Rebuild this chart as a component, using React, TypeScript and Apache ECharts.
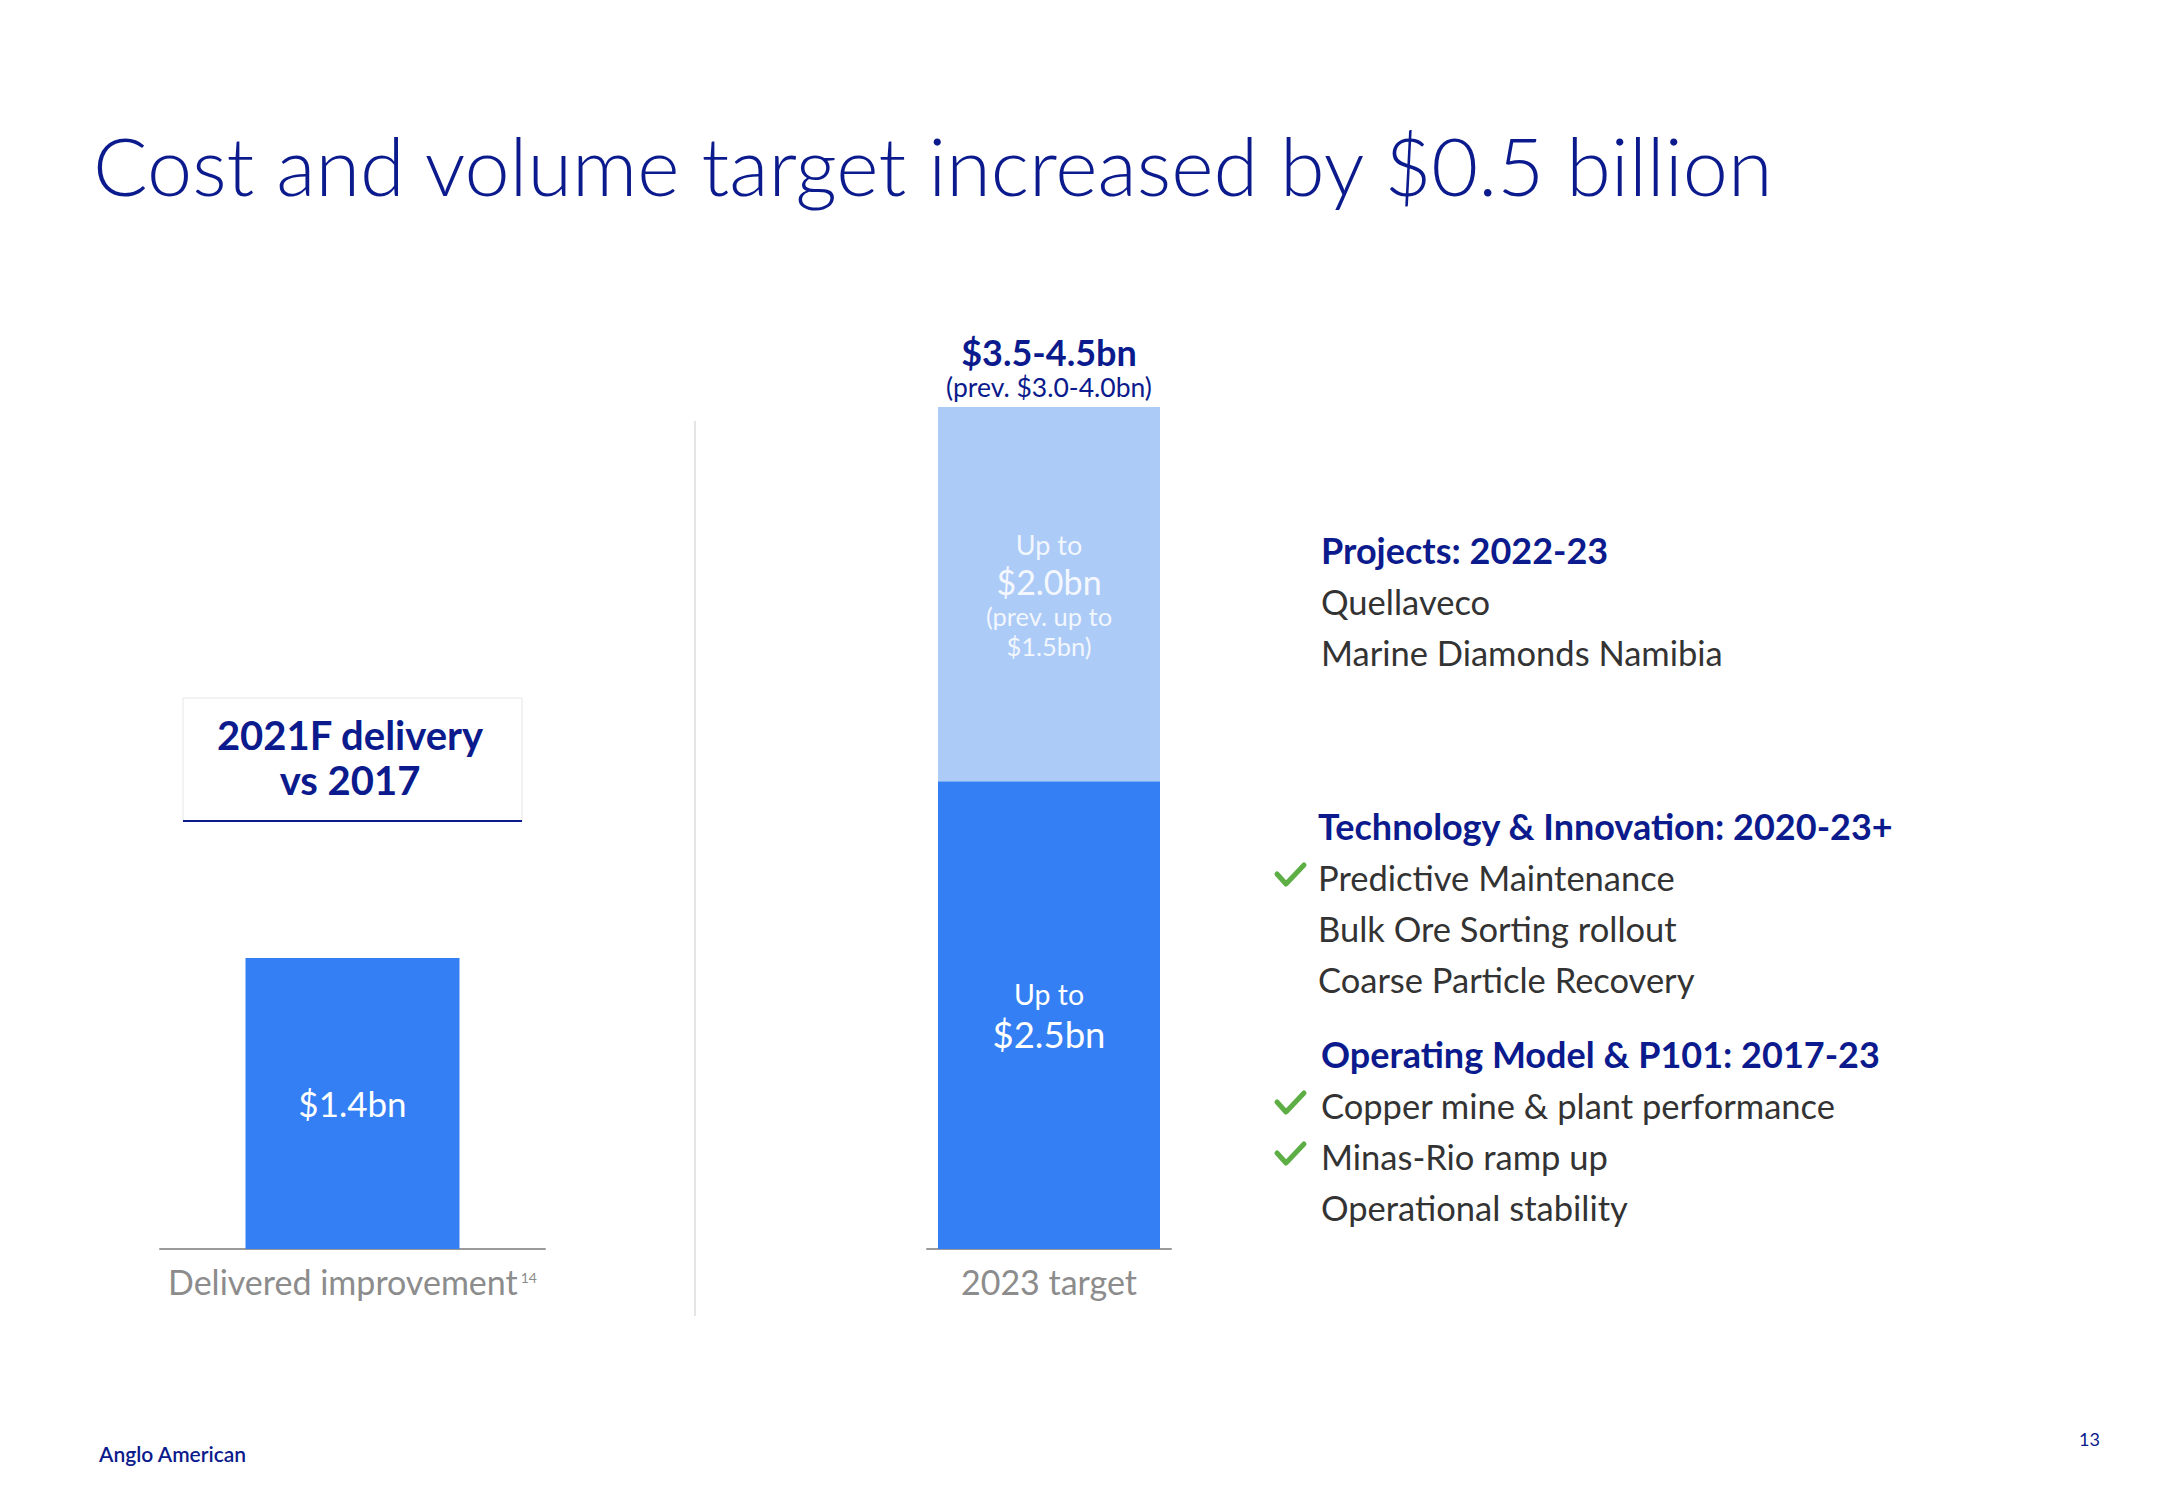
import React, { useEffect, useRef } from "react";
import * as echarts from "echarts";

// ---- data ----
const LEFT_CATEGORIES = ["Delivered improvement"];
const DELIVERED_VALUES = [1.4];
const MID_CATEGORIES = ["2023 target"];
const TARGET_BASE_VALUES = [2.5];
const TARGET_UPSIDE_VALUES = [2.0];
const TARGET_RANGE_LABEL = "$3.5-4.5bn";
const TARGET_RANGE_PREV = "(prev. $3.0-4.0bn)";
const UPSIDE_PREV = ["(prev. up to", "$1.5bn)"];
const FOOTNOTE_REF = "14";

const TITLE = "Cost and volume target increased by $0.5 billion";
const BOX_LINES = ["2021F delivery", "vs 2017"];

const HEAD_PROJECTS = "Projects: 2022-23";
const ITEMS_PROJECTS = ["Quellaveco", "Marine Diamonds Namibia"];
const CHECK_PROJECTS = [false, false];
const HEAD_TECH = "Technology & Innovation: 2020-23+";
const ITEMS_TECH = ["Predictive Maintenance", "Bulk Ore Sorting rollout", "Coarse Particle Recovery"];
const CHECK_TECH = [true, false, false];
const HEAD_OPS = "Operating Model & P101: 2017-23";
const ITEMS_OPS = ["Copper mine & plant performance", "Minas-Rio ramp up", "Operational stability"];
const CHECK_OPS = [true, true, false];

// ---- styles ----
const NAVY = "#0b1a8c";
const BAR_DARK = "#347ff3";
const BAR_LIGHT = "#adcbf7";
const GREY = "#8c8c8c";
const BODY = "#333333";
const GREEN = "#5cae45";
const FONT = "Lato, 'Open Sans', sans-serif";

function fmtMoney(v: number) {
  return "$" + v.toFixed(1) + "bn";
}

export default function App() {
  const ref = useRef<HTMLDivElement>(null);

  useEffect(() => {
    document.body.style.margin = "0";
    const chart = echarts.init(ref.current!, null, { renderer: "svg" });

    const graphics: any[] = [];
    const text = (
      x: number,
      y: number,
      t: string,
      size: number,
      color: string,
      weight: any = "normal",
      align: any = "left"
    ) => ({
      type: "text",
      x,
      y,
      style: {
        text: t,
        fill: color,
        font: `${weight} ${size}px ${FONT}`,
        textAlign: align,
        textVerticalAlign: "middle",
      },
    });
    const check = (x: number, y: number) => ({
      type: "polyline",
      shape: { points: [[x, y], [x + 9, y + 10], [x + 27, y - 9]] },
      style: { stroke: GREEN, lineWidth: 5, fill: null, lineCap: "round", lineJoin: "round" },
    });

    // Title
    graphics.push(text(93, 164, TITLE, 81, NAVY, 300));
    // Footer
    graphics.push(text(99, 1453, "Anglo American", 21, NAVY, 600));
    graphics.push(text(2100, 1439, "13", 18, NAVY, "normal", "right"));
    // Divider
    graphics.push({
      type: "line",
      shape: { x1: 695, y1: 421, x2: 695, y2: 1316 },
      style: { stroke: "#dcdcdc", lineWidth: 1.5 },
    });
    // Box
    graphics.push({
      type: "rect",
      shape: { x: 183, y: 698, width: 339, height: 123 },
      style: { fill: "#fff", stroke: "#e6e6e6", lineWidth: 1 },
    });
    graphics.push({
      type: "line",
      shape: { x1: 183, y1: 821, x2: 522, y2: 821 },
      style: { stroke: NAVY, lineWidth: 2 },
    });
    graphics.push(text(350, 735, BOX_LINES[0], 40, NAVY, "bold", "center"));
    graphics.push(text(350, 780, BOX_LINES[1], 40, NAVY, "bold", "center"));

    // Right panel
    const addSection = (
      head: string,
      headX: number,
      headY: number,
      items: string[],
      checks: boolean[],
      itemX: number
    ) => {
      graphics.push(text(headX, headY, head, 36, NAVY, "bold"));
      items.forEach((it, i) => {
        const y = headY + 51 * (i + 1);
        graphics.push(text(itemX, y, it, 34.5, BODY, "normal"));
        if (checks[i]) graphics.push(check(1277, y - 3));
      });
    };
    addSection(HEAD_PROJECTS, 1321, 550, ITEMS_PROJECTS, CHECK_PROJECTS, 1321);
    addSection(HEAD_TECH, 1318, 826, ITEMS_TECH, CHECK_TECH, 1318);
    addSection(HEAD_OPS, 1321, 1054, ITEMS_OPS, CHECK_OPS, 1321);

    const option: any = {
      animation: false,
      backgroundColor: "#ffffff",
      textStyle: { fontFamily: FONT },
      grid: [
        { left: 160, width: 385, top: 407, height: 842 },
        { left: 927, width: 244, top: 407, height: 842 },
      ],
      xAxis: [
        {
          type: "category",
          gridIndex: 0,
          data: LEFT_CATEGORIES,
          axisLine: { lineStyle: { color: "#9a9a9a", width: 2 } },
          axisTick: { show: false },
          axisLabel: {
            margin: 12,
            formatter: (v: string) => `{a|${v}}{s|${FOOTNOTE_REF}}`,
            rich: {
              a: { fontSize: 34, color: GREY, fontFamily: FONT, lineHeight: 40 },
              s: { fontSize: 14, color: GREY, fontFamily: FONT, lineHeight: 40, verticalAlign: "middle", padding: [0, 0, 8, 3] },
            },
          },
        },
        {
          type: "category",
          gridIndex: 1,
          data: MID_CATEGORIES,
          axisLine: { lineStyle: { color: "#9a9a9a", width: 2 } },
          axisTick: { show: false },
          axisLabel: { margin: 15, fontSize: 34, color: GREY, fontFamily: FONT },
        },
      ],
      yAxis: [
        { type: "value", gridIndex: 0, min: 0, max: 4.05, show: false, splitLine: { show: false } },
        { type: "value", gridIndex: 1, min: 0, max: 4.5, show: false, splitLine: { show: false } },
      ],
      series: [
        {
          type: "bar",
          xAxisIndex: 0,
          yAxisIndex: 0,
          data: DELIVERED_VALUES,
          barWidth: 214,
          itemStyle: { color: BAR_DARK },
          label: {
            show: true,
            position: "inside",
            color: "#fff",
            fontSize: 35,
            fontFamily: FONT,
            formatter: (p: any) => fmtMoney(p.value),
          },
        },
        {
          type: "bar",
          xAxisIndex: 1,
          yAxisIndex: 1,
          stack: "t",
          data: TARGET_BASE_VALUES,
          barWidth: 222,
          itemStyle: { color: BAR_DARK },
          label: {
            show: true,
            position: "inside",
            formatter: (p: any) => `{a|Up to}\n{b|${fmtMoney(p.value)}}`,
            rich: {
              a: { fontSize: 28.5, color: "#fff", fontFamily: FONT, lineHeight: 37 },
              b: { fontSize: 36.5, color: "#fff", fontFamily: FONT, lineHeight: 42 },
            },
          },
        },
        {
          type: "bar",
          xAxisIndex: 1,
          yAxisIndex: 1,
          stack: "t",
          data: TARGET_UPSIDE_VALUES,
          barWidth: 222,
          itemStyle: { color: BAR_LIGHT },
          label: {
            show: true,
            position: "inside",
            formatter: (p: any) =>
              `{a|Up to}\n{b|${fmtMoney(p.value)}}\n{c|${UPSIDE_PREV[0]}}\n{c|${UPSIDE_PREV[1]}}`,
            rich: {
              a: { fontSize: 27, color: "rgba(255,255,255,0.85)", fontFamily: FONT, lineHeight: 34 },
              b: { fontSize: 34, color: "rgba(255,255,255,0.9)", fontFamily: FONT, lineHeight: 40 },
              c: { fontSize: 25.5, color: "rgba(255,255,255,0.85)", fontFamily: FONT, lineHeight: 30 },
            },
          },
        },
        {
          type: "bar",
          xAxisIndex: 1,
          yAxisIndex: 1,
          stack: "t",
          data: [0],
          barWidth: 222,
          itemStyle: { color: "transparent" },
          label: {
            show: true,
            position: "top",
            distance: 5,
            formatter: () => `{a|${TARGET_RANGE_LABEL}}\n{b|${TARGET_RANGE_PREV}}`,
            rich: {
              a: { fontSize: 36, color: NAVY, fontWeight: "bold", fontFamily: FONT, lineHeight: 40 },
              b: { fontSize: 26.5, color: NAVY, fontFamily: FONT, lineHeight: 30 },
            },
          },
        },
      ],
      graphic: graphics,
    };

    chart.setOption(option);
    return () => chart.dispose();
  }, []);

  return <div ref={ref} style={{ width: 2167, height: 1500 }} />;
}
